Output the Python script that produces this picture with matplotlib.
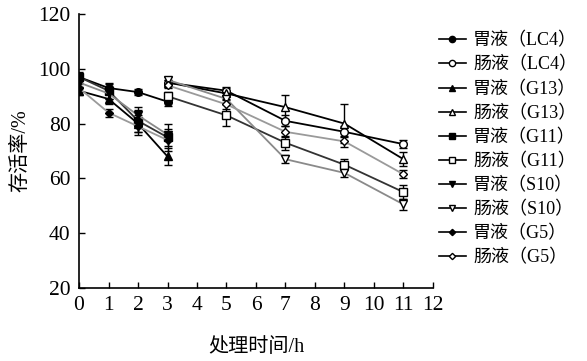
import matplotlib
matplotlib.use("Agg")
import matplotlib.pyplot as plt
from matplotlib.lines import Line2D

plt.rcParams['font.family'] = ['Liberation Serif', 'Noto Sans CJK SC']

# time points (h)
t_gastric = [0, 1, 2, 3]
t_intest = [3, 5, 7, 9, 11]

strains = ['LC4', 'G13', 'G11', 'S10', 'G5']

# survival rate (%) in gastric juice, 0-3 h
gastric = {
    'LC4': [97, 93, 91.5, 88],
    'G13': [92, 89, 80, 68],
    'G11': [97, 92, 81, 75],
    'S10': [95, 91, 83, 76],
    'G5': [93, 84, 79, 74],
}
gastric_err = {
    'LC4': [1.5, 1.5, 1, 1.5],
    'G13': [1.5, 2, 3, 3],
    'G11': [2, 3, 4, 5],
    'S10': [1.5, 2, 3, 2],
    'G5': [1.5, 1.5, 3, 2],
}

# survival rate (%) in intestinal juice, 3-11 h
intest = {
    'LC4': [95, 92, 81, 77, 72.5],
    'G13': [95, 91, 86, 80, 67],
    'G11': [90, 83, 73, 65, 55],
    'S10': [96, 89, 67, 62, 50.5],
    'G5': [94, 87, 77, 73.5, 61.5],
}
intest_err = {
    'LC4': [1, 1.5, 2, 2, 1.5],
    'G13': [1, 2, 4.5, 7, 2.5],
    'G11': [1.5, 4, 2.5, 2, 2.5],
    'S10': [1, 2, 1.5, 1.5, 2],
    'G5': [1, 1.5, 2, 2, 1.5],
}

markers = {'LC4': 'o', 'G13': '^', 'G11': 's', 'S10': 'v', 'G5': 'D'}
colors = {'LC4': 'black', 'G13': 'black', 'G11': '#333333',
          'S10': '#8a8a8a', 'G5': '#9a9a9a'}
msize = {'LC4': 5.5, 'G13': 5.5, 'G11': 5.5, 'S10': 5.5, 'G5': 4.2}

fig = plt.figure(figsize=(5.87, 3.61), dpi=100)
ax = fig.add_axes([0.1346, 0.2022, 0.6030, 0.7590])

handles = []
for s in strains:
    ax.errorbar(t_gastric, gastric[s], yerr=gastric_err[s], color=colors[s],
                ecolor='black', elinewidth=1, capsize=3, lw=1.3,
                marker=markers[s], ms=msize[s], mfc='black', mec='black')
    ax.errorbar(t_intest, intest[s], yerr=intest_err[s], color=colors[s],
                ecolor='black', elinewidth=1, capsize=3, lw=1.3,
                marker=markers[s], ms=msize[s], mfc='white', mec='black')
    handles.append(Line2D([], [], color='black', lw=1.2, marker=markers[s],
                          ms=msize[s] - 1, mfc='black', mec='black',
                          label='胃液（%s）' % s))
    handles.append(Line2D([], [], color='black', lw=1.2, marker=markers[s],
                          ms=msize[s] - 1, mfc='white', mec='black',
                          label='肠液（%s）' % s))

ax.set_xlim(0, 12)
ax.set_ylim(20, 120)
ax.set_xticks(range(0, 13))
ax.set_yticks(range(20, 121, 20))
ax.tick_params(direction='in', length=4, width=1, labelsize=15.5, pad=6)
for sp in ['top', 'right']:
    ax.spines[sp].set_visible(False)
for sp in ['left', 'bottom']:
    ax.spines[sp].set_linewidth(1.2)

ax.set_xlabel('处理时间/h', fontsize=14.5, labelpad=16)
ax.set_ylabel('存活率/%', fontsize=14.5, labelpad=6)

leg = fig.legend(handles=handles, loc='upper left', bbox_to_anchor=(0.735, 0.93),
                 frameon=False, fontsize=13, handlelength=1.5, handletextpad=0.4,
                 labelspacing=0.38, borderaxespad=0)

plt.savefig('out.png', dpi=100)
